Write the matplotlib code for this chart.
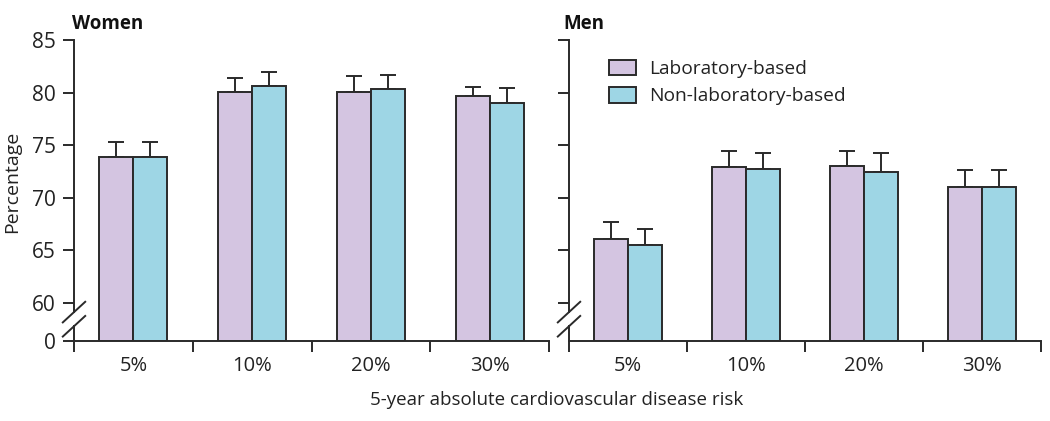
import numpy as np
import matplotlib
matplotlib.use("Agg")
import matplotlib.pyplot as plt
from matplotlib.lines import Line2D
from matplotlib.patches import Patch

risk_labels = ["5%", "10%", "20%", "30%"]

women_lab = [73.9, 80.1, 80.1, 79.7]
women_lab_upper = [75.3, 81.4, 81.55, 80.55]
women_nonlab = [73.9, 80.6, 80.3, 79.0]
women_nonlab_upper = [75.3, 82.0, 81.65, 80.45]

men_lab = [66.1, 72.9, 73.0, 71.0]
men_lab_upper = [67.7, 74.45, 74.45, 72.6]
men_nonlab = [65.5, 72.7, 72.45, 71.0]
men_nonlab_upper = [67.0, 74.3, 74.3, 72.6]

series_names = ["Laboratory-based", "Non-laboratory-based"]
colors = ["#D4C5E1", "#9ED6E5"]
edge = "#2a2a2a"

plt.rcParams["font.family"] = ["Open Sans", "DejaVu Sans"]

# broken y axis: 0-60 squeezed into a short stub
K = 3.62


def fwd(v):
    v = np.asarray(v, dtype=float)
    return np.where(v <= 60, v * K / 60.0, K + (v - 60))


def inv(u):
    u = np.asarray(u, dtype=float)
    return np.where(u <= K, u * 60.0 / K, u - K + 60)


W, H = 1050, 421
fig = plt.figure(figsize=(W / 100, H / 100), dpi=100)
bottom = 1 - 341 / H
height = 301 / H
ax_w = fig.add_axes([74 / W, bottom, 475 / W, height])
ax_m = fig.add_axes([569 / W, bottom, 472 / W, height])

LW = 1.4
bar_w = 0.287


def draw_panel(ax, lab, lab_up, nonlab, nonlab_up, show_labels):
    ax.set_yscale("function", functions=(fwd, inv))
    x = np.arange(len(risk_labels)) + 0.5
    for off, vals, ups, c in [(-bar_w / 2, lab, lab_up, colors[0]),
                              (bar_w / 2, nonlab, nonlab_up, colors[1])]:
        vals = np.array(vals)
        err = np.array(ups) - vals
        ax.bar(x + off, vals, width=bar_w, color=c, edgecolor=edge,
               linewidth=LW, zorder=2)
        ax.errorbar(x + off, vals, yerr=[np.zeros_like(err), err], fmt="none",
                    ecolor=edge, elinewidth=LW, capsize=5.5, capthick=LW,
                    zorder=1)
    ax.set_xlim(0, len(risk_labels))
    ax.set_ylim(0, 85)
    for s in ["top", "right", "left"]:
        ax.spines[s].set_visible(False)
    ax.spines["bottom"].set_linewidth(LW)
    ax.spines["bottom"].set_color(edge)

    ax.set_xticks(np.arange(len(risk_labels) + 1))
    ax.set_xticklabels([])
    ax.set_xticks(x, minor=True)
    ax.set_xticklabels(risk_labels, minor=True, fontsize=14.5, color="#222")
    ax.tick_params(axis="x", which="major", direction="out", length=8,
                   width=LW, color=edge)
    ax.tick_params(axis="x", which="minor", length=0, pad=11)

    yt = [0, 60, 65, 70, 75, 80, 85] if show_labels else [60, 65, 70, 75, 80, 85]
    ax.set_yticks(yt)
    ax.yaxis.set_minor_locator(matplotlib.ticker.NullLocator())
    ax.set_yticklabels([str(t) for t in yt] if show_labels else [],
                       fontsize=15, color="#222")
    ax.tick_params(axis="y", direction="out", length=8, width=LW, color=edge,
                   pad=5)

    # spine with a gap between the break slashes
    g0, g1 = 0.049, 0.096
    for y0, y1 in [(0, g0), (g1, 1)]:
        ax.add_line(Line2D([0, 0], [y0, y1], transform=ax.transAxes,
                           color=edge, lw=LW, clip_on=False))
    wpx = ax.get_position().width * W
    dx = 11.2 / wpx
    dy = 10.3 / 301
    for yc in (g0, g1):
        ax.add_line(Line2D([-dx, dx], [yc - dy, yc + dy], transform=ax.transAxes,
                           color=edge, lw=LW, clip_on=False))


draw_panel(ax_w, women_lab, women_lab_upper, women_nonlab, women_nonlab_upper, True)
draw_panel(ax_m, men_lab, men_lab_upper, men_nonlab, men_nonlab_upper, False)

fig.text(72 / W, 1 - 24 / H, "Women", fontsize=13.5, fontweight="bold",
         ha="left", va="center", color="#111")
fig.text(563 / W, 1 - 24 / H, "Men", fontsize=13.5, fontweight="bold",
         ha="left", va="center", color="#111")
fig.text(12 / W, 1 - 182 / H, "Percentage", rotation=90, fontsize=14,
         ha="center", va="center", color="#222")
fig.text(557 / W, 1 - 400 / H, "5-year absolute cardiovascular disease risk",
         fontsize=13.5, ha="center", va="center", color="#222")

handles = [Patch(facecolor=c, edgecolor=edge, linewidth=LW) for c in colors]
ax_m.legend(handles, series_names, loc="upper left", bbox_to_anchor=(0.085, 0.935),
            frameon=False, fontsize=13.8, borderpad=0, borderaxespad=0,
            handlelength=1.4, handleheight=0.9, handletextpad=0.7,
            labelspacing=0.45, labelcolor="#222")

fig.savefig("out.png", dpi=100)
